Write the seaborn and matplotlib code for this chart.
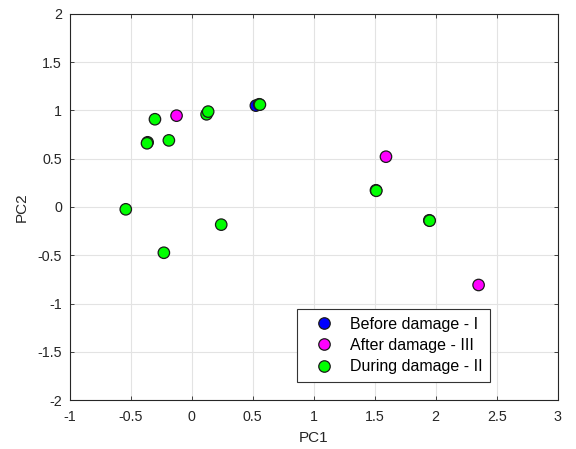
import matplotlib
matplotlib.use("Agg")
import matplotlib.pyplot as plt
import seaborn as sns
import pandas as pd

# Principal component scores per damage stage
before_pc1 = [0.527]
before_pc2 = [1.050]

after_pc1 = [-0.123, 1.593, 2.352]
after_pc2 = [0.946, 0.521, -0.808]

during_pc1 = [-0.300, -0.360, -0.365, -0.186, 0.123, 0.136, 0.554, 0.560,
              -0.539, 0.243, -0.227, 1.511, 1.514, 1.948, 1.951]
during_pc2 = [0.909, 0.670, 0.660, 0.690, 0.960, 0.988, 1.064, 1.060,
              -0.024, -0.183, -0.474, 0.173, 0.168, -0.138, -0.142]

labels = ["Before damage - I", "After damage - III", "During damage - II"]
colors = ["#0000ff", "#ff00ff", "#00ff00"]

df = pd.concat([
    pd.DataFrame({"PC1": before_pc1, "PC2": before_pc2, "Stage": labels[0]}),
    pd.DataFrame({"PC1": after_pc1, "PC2": after_pc2, "Stage": labels[1]}),
    pd.DataFrame({"PC1": during_pc1, "PC2": during_pc2, "Stage": labels[2]}),
], ignore_index=True)

sns.set_theme(style="whitegrid")
plt.rcParams["font.family"] = ["Liberation Sans", "DejaVu Sans"]

fig = plt.figure(figsize=(5.76, 4.49), dpi=100)
ax = fig.add_axes([0.1207, 0.109, 0.8475, 0.860])

sns.scatterplot(data=df, x="PC1", y="PC2", hue="Stage", hue_order=labels,
                palette=colors, s=68, edgecolor="#1a1a1a", linewidth=0.9,
                ax=ax, zorder=3)

ax.set_xlim(-1, 3)
ax.set_ylim(-2, 2)
ax.set_xticks([-1, -0.5, 0, 0.5, 1, 1.5, 2, 2.5, 3])
ax.set_yticks([-2, -1.5, -1, -0.5, 0, 0.5, 1, 1.5, 2])
ax.set_xticklabels(["-1", "-0.5", "0", "0.5", "1", "1.5", "2", "2.5", "3"])
ax.set_yticklabels(["-2", "-1.5", "-1", "-0.5", "0", "0.5", "1", "1.5", "2"])
ax.set_xlabel("PC1", fontsize=11, color="#262626", labelpad=5)
ax.set_ylabel("PC2", fontsize=11, color="#262626", labelpad=6)

ax.grid(True, color="#e3e3e3", linewidth=0.8)
ax.set_axisbelow(True)
for sp in ax.spines.values():
    sp.set_visible(True)
    sp.set_color("#262626")
    sp.set_linewidth(0.8)
ax.tick_params(axis="both", direction="in", length=3, width=0.6,
               color="#262626", labelsize=10.3, labelcolor="#262626",
               top=True, right=True, bottom=True, left=True)
ax.tick_params(axis="x", pad=7.5)
ax.tick_params(axis="y", pad=5.5)

leg = ax.legend(loc="lower left", bbox_to_anchor=(0.466, 0.046),
                fontsize=11.5, frameon=True, fancybox=False,
                edgecolor="#333333", framealpha=1, borderpad=0.5,
                handlelength=2.4, handletextpad=0.4, labelspacing=0.4,
                borderaxespad=0, markerscale=1.0)
leg.get_frame().set_linewidth(0.8)
for t in leg.get_texts():
    t.set_color("#000000")

fig.savefig("out.png", dpi=100)
